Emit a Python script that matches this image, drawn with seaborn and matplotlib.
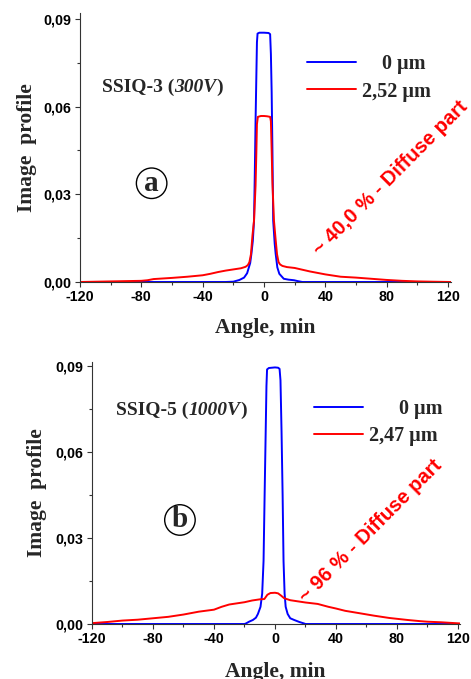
import matplotlib
matplotlib.use("Agg")
import matplotlib.pyplot as plt
from matplotlib.ticker import MultipleLocator
import pandas as pd
import seaborn as sns

# ---- panel (a): SSIQ-3 (300V) image profiles ----
a_x_0um = [-120, -25, -20, -16, -13, -11, -9, -8.2, -7.3, -6.5, -6, -5.5, -5, -4.6,
           -4.2, -3, 0, 3, 4.0, 4.5, 5, 5.5, 6, 7, 7.6, 8.7, 10, 12.9, 16, 19.6, 22,
           25, 122]
a_y_0um = [0, 0, 0.0001, 0.0007, 0.0015, 0.003, 0.0065, 0.0097, 0.014, 0.021, 0.037,
           0.055, 0.07, 0.082, 0.0850, 0.0853, 0.0853, 0.0852, 0.0848, 0.078, 0.065,
           0.045, 0.021, 0.013, 0.0097, 0.005, 0.0028, 0.0011, 0.0008, 0.0006, 0.0003,
           0, 0]
a_x_film = [-120, -110, -100, -90, -80, -76, -72, -60, -50, -40, -35, -30, -25, -20,
            -15, -12, -10.5, -9.5, -8.5, -7.5, -6.5, -5.5, -5, -4.6, -4, -2, 0, 2, 4,
            4.5, 5, 5.5, 6.5, 7.5, 8.5, 9.5, 10.5, 12, 15, 20, 25, 30, 35, 40, 50, 60,
            70, 80, 90, 100, 110, 122]
a_y_film = [0, 0.0001, 0.0002, 0.0003, 0.0004, 0.0006, 0.001, 0.0014, 0.0018, 0.0023,
            0.0028, 0.0034, 0.0039, 0.0043, 0.0047, 0.0052, 0.0058, 0.0068, 0.0095,
            0.016, 0.021, 0.033, 0.044, 0.054, 0.0565, 0.0568, 0.0568, 0.0567, 0.0565,
            0.055, 0.045, 0.034, 0.021, 0.015, 0.0095, 0.0068, 0.006, 0.0055, 0.0051,
            0.0048, 0.0042, 0.0036, 0.0031, 0.0026, 0.0018, 0.0015, 0.0011, 0.0007,
            0.0004, 0.0002, 0.0001, 0]

# ---- panel (b): SSIQ-5 (1000V) image profiles ----
b_x_0um = [-120, -20, -19, -17, -14.5, -12.5, -11.2, -9.5, -8.4, -7.5, -6.8, -6.1,
           -5.6, -5.2, -4, -2, 0, 2, 3.0, 3.6, 4.3, 5.0, 5.6, 6.3, 7, 8.3, 10, 12.6,
           16, 19, 20, 121.3]
b_y_0um = [0, 0, 0.0002, 0.0008, 0.0014, 0.0022, 0.0035, 0.006, 0.0106, 0.022, 0.045,
           0.067, 0.083, 0.0888, 0.0893, 0.0894, 0.0895, 0.0894, 0.089, 0.085, 0.067,
           0.045, 0.022, 0.0106, 0.006, 0.0035, 0.002, 0.0014, 0.0007, 0.0002, 0, 0]
b_x_film = [-120, -110, -100, -90, -80, -70, -60, -55, -50, -40, -35, -30, -25, -20,
            -15, -10, -7, -5, -3, 0, 2, 4, 6, 10, 15, 20, 28, 35, 40, 46, 55, 65, 75,
            87, 95, 100, 109, 115, 121.3]
b_y_film = [0.0003, 0.0007, 0.0012, 0.0015, 0.002, 0.0025, 0.0033, 0.0038, 0.0043,
            0.005, 0.006, 0.0068, 0.0072, 0.0076, 0.0082, 0.0086, 0.0087, 0.0102,
            0.0108, 0.0109, 0.0107, 0.0099, 0.009, 0.0083, 0.0079, 0.0075, 0.007,
            0.006, 0.0054, 0.0046, 0.0038, 0.0029, 0.0021, 0.0014, 0.001, 0.0008,
            0.0006, 0.0004, 0.0002]

x_ticks = [-120, -80, -40, 0, 40, 80, 120]
x_tick_labels = ["-120", "-80", "-40", "0", "40", "80", "120"]
y_ticks = [0.0, 0.03, 0.06, 0.09]
y_tick_labels = ["0,00", "0,03", "0,06", "0,09"]

panels = [
    dict(rect=[0.1699, 0.5847, 0.7877, 0.3962], xlim=(-120, 122), ylim=(0, 0.09205),
         x0=a_x_0um, y0=a_y_0um, x1=a_x_film, y1=a_y_film,
         lab0="    0 \u00b5m", lab1="2,52 \u00b5m", leg=(0.612, 0.848),
         sample="SSIQ-3 (", volt="300V", sample_pos=(0.059, 0.705),
         letter="a", letter_pos=(0.193, 0.367),
         note="~ 40,0 % - Diffuse part", note_xy=(82.6, 0.0356),
         ylab=(-0.130, 0.5), xlab=(0.499, -0.188)),
    dict(rect=[0.1953, 0.0810, 0.7813, 0.3859], xlim=(-120, 121.3), ylim=(0, 0.0914),
         x0=b_x_0um, y0=b_y_0um, x1=b_x_film, y1=b_y_film,
         lab0="      0 \u00b5m", lab1="2,47 \u00b5m", leg=(0.603, 0.860),
         sample="SSIQ-5 (", volt="1000V", sample_pos=(0.065, 0.798),
         letter="b", letter_pos=(0.239, 0.397),
         note="~ 96 % - Diffuse part", note_xy=(62.8, 0.0324),
         ylab=(-0.137, 0.5), xlab=(0.497, -0.202)),
]

sns.set_theme(style="ticks")
plt.rcParams["font.family"] = ["Liberation Serif", "DejaVu Serif"]
plt.rcParams["font.weight"] = "bold"

BLUE = "#0000ff"
RED = "#ff0000"
AXC = "#333333"
SANS = ["Liberation Sans", "DejaVu Sans"]

fig = plt.figure(figsize=(4.71, 6.79), dpi=100)

for p in panels:
    ax = fig.add_axes(p["rect"])
    d0 = pd.DataFrame({"angle": p["x0"], "profile": p["y0"]})
    d1 = pd.DataFrame({"angle": p["x1"], "profile": p["y1"]})
    sns.lineplot(data=d0, x="angle", y="profile", ax=ax, color=BLUE, lw=1.4,
                 estimator=None, sort=False, label=p["lab0"])
    sns.lineplot(data=d1, x="angle", y="profile", ax=ax, color=RED, lw=1.4,
                 estimator=None, sort=False, label=p["lab1"])

    ax.set_xlim(*p["xlim"])
    ax.set_ylim(*p["ylim"])
    sns.despine(ax=ax)
    for s in ("left", "bottom"):
        ax.spines[s].set_color(AXC)
        ax.spines[s].set_linewidth(0.8)

    ax.set_xticks(x_ticks, x_tick_labels, fontfamily=SANS, fontweight="bold",
                  fontsize=10.3)
    ax.set_yticks(y_ticks, y_tick_labels, fontfamily=SANS, fontweight="bold",
                  fontsize=10.3)
    ax.xaxis.set_minor_locator(MultipleLocator(20))
    ax.yaxis.set_minor_locator(MultipleLocator(0.015))
    ax.tick_params(which="both", direction="out", color=AXC, width=0.8,
                   labelcolor="black")
    ax.tick_params(which="major", length=3.6, pad=2.5)
    ax.tick_params(which="minor", length=2.2)

    ax.set_xlabel("Angle, min", fontsize=15.5, fontweight="bold")
    ax.set_ylabel("Image  profile", fontsize=15.5, fontweight="bold")
    ax.xaxis.label.set_va("baseline")
    ax.yaxis.label.set_va("baseline")
    ax.xaxis.set_label_coords(*p["xlab"])
    ax.yaxis.set_label_coords(*p["ylab"])

    ax.legend(loc="upper left", bbox_to_anchor=p["leg"], frameon=False,
              borderpad=0, borderaxespad=0, handlelength=2.45,
              handletextpad=0.3, labelspacing=0.38,
              prop=dict(family="Liberation Serif", weight="bold", size=14.5))

    # sample name, with the voltage in italics
    t1 = ax.text(*p["sample_pos"], p["sample"], transform=ax.transAxes,
                 fontsize=14, fontweight="bold", va="baseline", ha="left")
    t2 = ax.annotate(p["volt"], xy=(1, 0), xycoords=t1, va="bottom", ha="left",
                     fontsize=14, fontweight="bold", fontstyle="italic")
    ax.annotate(")", xy=(1, 0), xycoords=t2, va="bottom", ha="left",
                fontsize=14, fontweight="bold")

    ax.text(*p["letter_pos"], p["letter"], transform=ax.transAxes, fontsize=21,
            fontweight="bold", ha="center", va="center",
            bbox=dict(boxstyle="circle,pad=0.06", fc="none", ec="black", lw=1.0))

    ax.text(*p["note_xy"], p["note"], rotation=45, rotation_mode="anchor",
            ha="center", va="center", color=RED, fontfamily=SANS,
            fontweight="bold", fontsize=14.5)

fig.savefig("out.png", dpi=100)
